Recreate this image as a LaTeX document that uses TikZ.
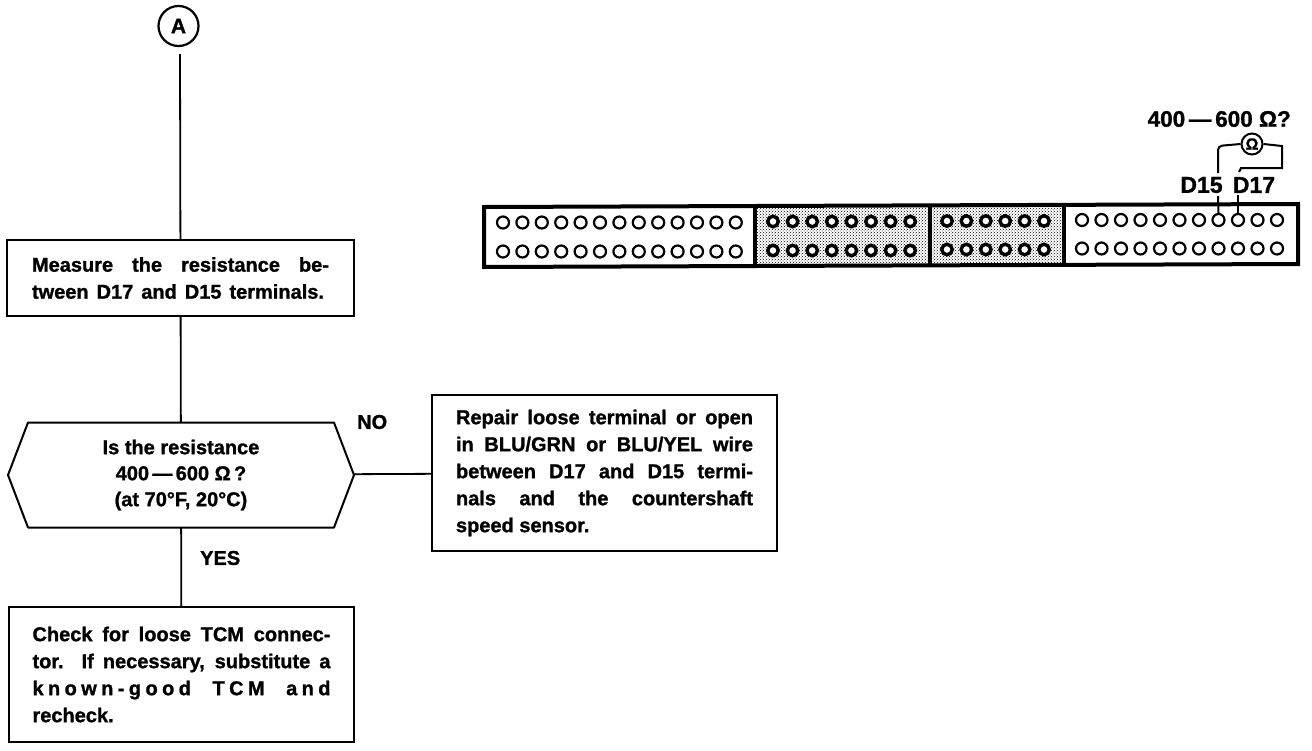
\documentclass[tikz,border=0pt]{standalone}
\usepackage{fontspec}
\setmainfont[BoldFeatures={FakeBold=1.2}]{Liberation Sans}
\usetikzlibrary{patterns}
\newcommand{\jline}[2]{\makebox[#1][s]{#2}}
\tikzset{
 x=1pt,y=-1pt,
 flowbox/.style={draw,line width=2pt,minimum width=#1,inner sep=0pt,outer sep=0pt,align=left,font=\fontsize{20}{27}\selectfont\bfseries},
 qbox/.style={draw=none,minimum width=346pt,minimum height=105pt,inner sep=0pt,outer sep=0pt,align=center,font=\fontsize{20}{26}\selectfont\bfseries},
 lnk/.style={line width=1.8pt},
 lbl/.style={inner sep=0pt,font=\fontsize{20}{22}\selectfont\bfseries},
 bigl/.style={inner sep=0pt,font=\fontsize{23}{26}\selectfont\bfseries},
 pin/.style={draw,line width=2.2pt,fill=white,circle,minimum size=12pt,inner sep=0pt},
 dpin/.style={draw,line width=3.4pt,fill=white,circle,minimum size=10.5pt,inner sep=0pt},
 wire/.style={line width=2pt},
}
\begin{document}
\begin{tikzpicture}
\useasboundingbox (0,0) rectangle (1312,750);
% flowchart
\node[draw,line width=2.2pt,circle,minimum size=40pt,inner sep=0pt,font=\fontsize{21}{24}\selectfont\bfseries] (a) at (178.5,26) {A};
\coordinate (as) at (180,54);
\node[flowbox=347pt,minimum height=76pt] (m) at (180.5,278) {\jline{297pt}{Measure the resistance be-}\\\jline{292pt}{tween D17 and D15 terminals.}};
\node[qbox] (q) at (181,475) {Is the resistance\\400\,—\,600 Ω\,?\\(at 70°F, 20°C)};
\draw[line width=2pt,line join=round] (q.east) -- ([xshift=-20pt]q.north east) -- ([xshift=20pt]q.north west) -- (q.west) -- ([xshift=20pt]q.south west) -- ([xshift=-20pt]q.south east) -- cycle;
\node[flowbox=345pt,minimum height=156pt] (r) at (604.5,473) {\jline{297pt}{Repair loose terminal or open}\\\jline{297pt}{in BLU/GRN or BLU/YEL wire}\\\jline{297pt}{between D17 and D15 termi-}\\\jline{297pt}{nals and the countershaft}\\speed sensor.};
\node[flowbox=345pt,minimum height=135pt] (c) at (181.5,674.5) {\jline{298pt}{Check for loose TCM connec-}\\\jline{298pt}{tor. If necessary, substitute a}\\\jline{298pt}{\addfontfeature{LetterSpace=22}known-good TCM and}\\recheck.};
\draw[lnk] (as) -- (m);
\draw[lnk] (m) -- (q);
\draw[lnk] (q) -- (c);
\draw[lnk] (q) -- (r);
\node[lbl,anchor=west] (no) at (357,422) {NO};
\node[lbl,anchor=west] (yes) at (200,558) {YES};
% connector body
\fill[pattern=crosshatch dots,pattern color=black] (755,205) rectangle (1064,266);
\draw[line width=4pt,line join=miter] (484,207) -- (1298,204) -- (1298,264) -- (484,267) -- cycle;
\draw[line width=4pt] (755,206) -- (755,266);
\draw[line width=4pt] (930,205) -- (930,266);
\draw[line width=4pt] (1064,204) -- (1064,265);
\foreach \i in {0,...,12}{
 \node[pin] (ta\i) at ({503+19.4*\i},222.5) {};
 \node[pin] (ba\i) at ({503+19.4*\i},251.5) {};
}
\foreach \i in {0,...,7}{
 \node[dpin] (tb\i) at ({773+19.6*\i},221.5) {};
 \node[dpin] (bb\i) at ({773+19.6*\i},250.5) {};
}
\foreach \i in {0,...,5}{
 \node[dpin] (tc\i) at ({947+19.4*\i},221) {};
 \node[dpin] (bc\i) at ({947+19.4*\i},249.5) {};
}
\foreach \i in {0,...,10}{
 \node[pin] (td\i) at ({1082+19.5*\i},220) {};
 \node[pin] (bd\i) at ({1082+19.5*\i},248.5) {};
}
% meter
\node[bigl,font=\fontsize{22.5}{26}\selectfont\bfseries,anchor=east] (v) at (1291,119) {400\,—\,600 Ω?};
\node[draw,line width=2pt,circle,minimum size=21pt,inner sep=0pt,font=\fontsize{16}{18}\selectfont\bfseries] (o) at (1252,144) {Ω};
\node[bigl] (d15) at (1201.5,185) {D15};
\node[bigl] (d17) at (1254,185) {D17};
\coordinate (w15) at (1218,173);
\coordinate (w17) at (1239,172);
\coordinate (cl) at (1218,146);
\coordinate (cr) at (1282,146);
\coordinate (cb) at (1282,168);
\draw[wire,rounded corners=4pt] (o.west) -- (cl) -- (w15);
\draw[wire] (o.east) -- (cr) -- (cb) -- (1241,168) -- (w17);
\draw[wire] (1218,196) -- (td7.north);
\draw[wire] (1238,195) -- (td8.north);
\end{tikzpicture}
\end{document}
